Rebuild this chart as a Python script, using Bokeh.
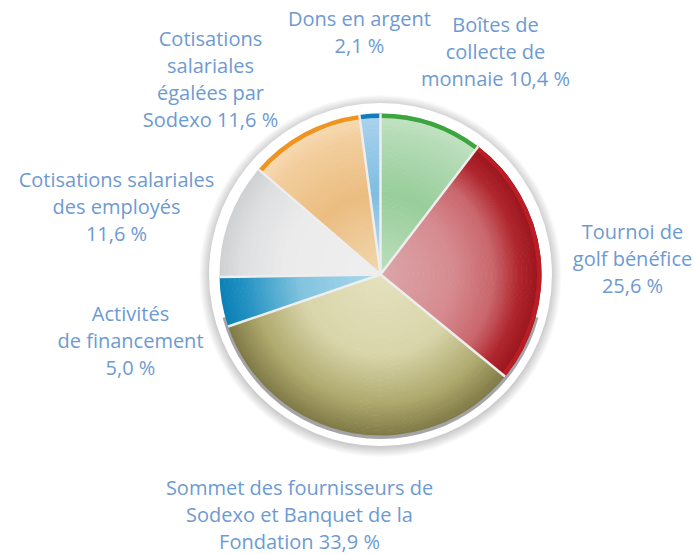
import numpy as np
from bokeh.plotting import figure
from bokeh.models import Range1d
from bokeh.core.properties import value
from bokeh.embed import file_html
from bokeh.resources import INLINE

# ---------------- data ----------------
categories = [
    "Boîtes de collecte de monnaie",
    "Tournoi de golf bénéfice",
    "Sommet des fournisseurs de Sodexo et Banquet de la Fondation",
    "Activités de financement",
    "Cotisations salariales des employés",
    "Cotisations salariales égalées par Sodexo",
    "Dons en argent",
]
values = [10.4, 25.6, 33.9, 5.0, 11.6, 11.6, 2.1]
label_templates = [
    "Boîtes de\ncollecte de\nmonnaie {pct}",
    "Tournoi de\ngolf bénéfice\n{pct}",
    "Sommet des fournisseurs de\nSodexo et Banquet de la\nFondation {pct}",
    "Activités\nde financement\n{pct}",
    "Cotisations salariales\ndes employés\n{pct}",
    "Cotisations\nsalariales\négalées par\nSodexo {pct}",
    "Dons en argent\n{pct}",
]

# ---------------- layout / style ----------------
W, H = 694, 554
CX, CY_PIX, R = 380, 274, 161
CY = H - CY_PIX
label_pos = [(495, 24), (632, 231), (299, 487), (130, 313), (116, 179), (210, 38), (359, 18)]
LINE_H = 27
TEXT_COLOR = "#6e9ad2"

stops = [
    [(0, "#bcdfbd"), (0.5, "#98cd9a"), (0.88, "#b6dcb7"), (1, "#c4e4c5")],
    [(0, "#dca6aa"), (0.45, "#d68b90"), (0.7, "#c9666c"), (0.86, "#b0262e"), (1, "#971219")],
    [(0, "#e4e1be"), (0.5, "#d9d5aa"), (0.8, "#aea96d"), (1, "#7f7946")],
    [(0, "#acd9ea"), (0.5, "#82c4df"), (0.85, "#2392c2"), (1, "#0a80b5")],
    [(0, "#efeff0"), (0.6, "#ebebec"), (0.86, "#dedfe0"), (1, "#cfd0d2")],
    [(0, "#f1d7b0"), (0.5, "#ebbd80"), (0.85, "#f2cd9c"), (1, "#f8dcb5")],
    [(0, "#c4e2f2"), (0.5, "#7fbde0"), (1, "#aad3ee")],
]
bands = ["#3da53d", "#bb1d25", None, None, None, "#ee941f", "#0f7cc0"]
BAND_W = 4.5


def hex2rgb(h):
    h = h.lstrip("#")
    return np.array([int(h[i:i + 2], 16) for i in (0, 2, 4)], dtype=float)


def interp(st, t):
    for (t0, c0), (t1, c1) in zip(st[:-1], st[1:]):
        if t <= t1:
            f = 0 if t1 == t0 else (t - t0) / (t1 - t0)
            c = hex2rgb(c0) * (1 - f) + hex2rgb(c1) * f
            return "#%02x%02x%02x" % tuple(int(round(v)) for v in c)
    return st[-1][1]


p = figure(width=W, height=H, x_range=Range1d(0, W), y_range=Range1d(0, H),
           output_backend="svg", toolbar_location=None, min_border=0,
           x_axis_type=None, y_axis_type=None, outline_line_color=None,
           background_fill_color="white", border_fill_color="white")
p.grid.visible = False

# soft shadow around the disc
for k in range(10, 0, -1):
    p.circle(x=CX, y=CY - 1.5, radius=171 + k, fill_color="#000000",
             fill_alpha=0.018, line_color=None)
# white rim
p.circle(x=CX, y=CY, radius=171.5, fill_color="white", line_color=None)
# inner bottom shade under the slices
p.annular_wedge(x=CX, y=CY - 1, inner_radius=R - 2, outer_radius=R + 2.5,
                start_angle=np.deg2rad(195), end_angle=np.deg2rad(345),
                fill_color="#7d7d80", fill_alpha=0.7, line_color=None)

# angles (clockwise from 12 o'clock)
vals = np.array(values, dtype=float)
frac = vals / vals.sum()
cum = np.concatenate([[0], np.cumsum(frac)]) * 360.0
N = 64
for i in range(len(values)):
    a0, a1 = cum[i], cum[i + 1]
    start = np.deg2rad(90 - a1)
    end = np.deg2rad(90 - a0)
    rr = np.linspace(0, R, N + 1)
    inner = rr[:-1]
    outer = rr[1:] + 0.6
    outer[-1] = R
    cols = [interp(stops[i], (a + b) / 2 / R) for a, b in zip(rr[:-1], rr[1:])]
    p.annular_wedge(x=CX, y=CY, inner_radius=inner, outer_radius=outer,
                    start_angle=start, end_angle=end, fill_color=cols,
                    line_color=None)
    if bands[i]:
        p.annular_wedge(x=CX, y=CY, inner_radius=R - BAND_W, outer_radius=R,
                        start_angle=start, end_angle=end, fill_color=bands[i],
                        line_color=None)

# separators
bang = np.deg2rad(90 - cum[:-1])
p.segment(x0=CX, y0=CY, x1=CX + R * np.cos(bang), y1=CY + R * np.sin(bang),
          line_color="#eeeeee", line_width=2.5)

# labels
xs, ys, ts = [], [], []
for i, tmpl in enumerate(label_templates):
    pct = ("%.1f" % values[i]).replace(".", ",") + " %"
    lines = tmpl.format(pct=pct).split("\n")
    lx, ly = label_pos[i]
    for j, ln in enumerate(lines):
        xs.append(lx)
        ys.append(H - (ly + j * LINE_H))
        ts.append(ln)
p.text(x=xs, y=ys, text=ts, text_align="center", text_baseline="middle",
       text_font=value("Open Sans"), text_font_size="20px", text_color=TEXT_COLOR)

open("out.html", "w").write(file_html(p, INLINE))
